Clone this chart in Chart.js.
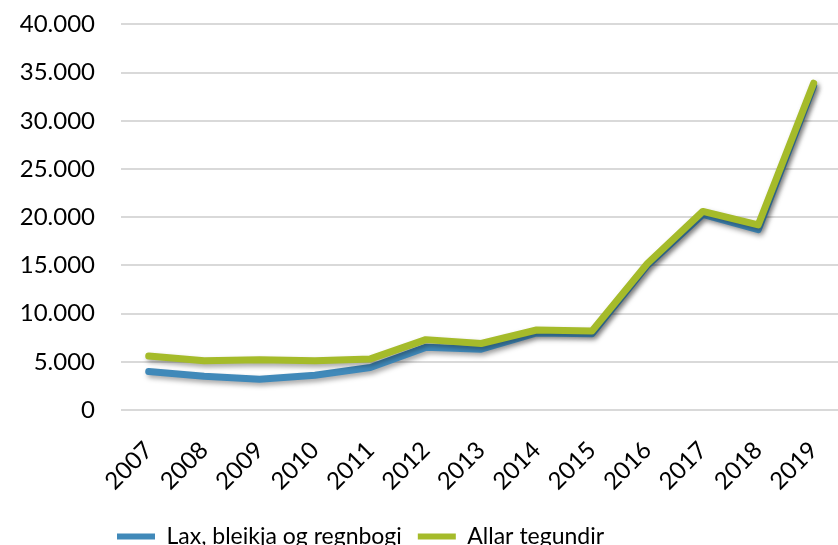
<!DOCTYPE html>
<html lang="fo">
<head>
    <meta charset="UTF-8">
    <title>Lax, bleikja og regnbogi</title>
    <script src="https://cdn.jsdelivr.net/npm/chart.js"></script>
    <style>
        html, body {
            margin: 0;
            padding: 0;
            background: #ffffff;
            overflow: hidden;
        }
        #wrap {
            position: absolute;
            left: 0;
            top: -16px;
            width: 860px;
            height: 574px;
        }
    </style>
</head>
<body>
    <div id="wrap">
        <canvas id="fishChart" width="860" height="574"></canvas>
    </div>
    <script>
        const years = ['2007', '2008', '2009', '2010', '2011', '2012', '2013',
                       '2014', '2015', '2016', '2017', '2018', '2019'];
        const laxBleikja = [4000, 3500, 3200, 3600, 4400, 6500, 6300, 8000, 7900, 15000, 20300, 18700, 33600];
        const allarTegundir = [5600, 5100, 5200, 5100, 5300, 7300, 6900, 8300, 8200, 15200, 20600, 19200, 33900];
        const yTicks = [0, 5000, 10000, 15000, 20000, 25000, 30000, 35000, 40000];

        const blue = '#4089b9';
        const green = '#a5bb2a';
        const fontFamily = 'Lato, "DejaVu Sans", sans-serif';

        // soft drop shadow under each line
        const lineShadow = {
            id: 'lineShadow',
            beforeDatasetDraw(chart) {
                const ctx = chart.ctx;
                ctx.save();
                ctx.shadowColor = 'rgba(0, 0, 0, 0.35)';
                ctx.shadowBlur = 5;
                ctx.shadowOffsetX = 2;
                ctx.shadowOffsetY = 3;
            },
            afterDatasetDraw(chart) {
                chart.ctx.restore();
            }
        };

        // push the legend a bit to the right
        const legendShift = {
            id: 'legendShift',
            afterLayout(chart) {
                chart.legend.left = 101;
            }
        };

        const ctx = document.getElementById('fishChart').getContext('2d');
        new Chart(ctx, {
            type: 'line',
            data: {
                labels: years,
                datasets: [
                    {
                        label: 'Lax, bleikja og regnbogi',
                        data: laxBleikja,
                        borderColor: blue,
                        backgroundColor: blue,
                        borderWidth: 7,
                        pointRadius: 0,
                        borderCapStyle: 'round',
                        borderJoinStyle: 'round',
                        tension: 0,
                        order: 2
                    },
                    {
                        label: 'Allar tegundir',
                        data: allarTegundir,
                        borderColor: green,
                        backgroundColor: green,
                        borderWidth: 7,
                        pointRadius: 0,
                        borderCapStyle: 'round',
                        borderJoinStyle: 'round',
                        tension: 0,
                        order: 1
                    }
                ]
            },
            options: {
                responsive: false,
                animation: false,
                layout: {
                    padding: { top: 0, left: 0, right: 0, bottom: 0 }
                },
                scales: {
                    x: {
                        offset: true,
                        grid: { display: false, drawTicks: false },
                        border: { display: false },
                        ticks: {
                            color: '#000000',
                            font: { family: fontFamily, size: 24 },
                            maxRotation: 45,
                            minRotation: 45,
                            padding: 26,
                            autoSkip: false
                        },
                        afterFit(scale) {
                            scale.height = 99;
                        }
                    },
                    y: {
                        min: 0,
                        max: 40000,
                        afterBuildTicks(scale) {
                            scale.ticks = yTicks.map(v => ({ value: v }));
                        },
                        grid: {
                            color: '#d9d9d9',
                            lineWidth: 2,
                            drawTicks: false
                        },
                        border: { display: false },
                        ticks: {
                            color: '#000000',
                            font: { family: fontFamily, size: 24 },
                            padding: 26,
                            callback: v => v === 0 ? '0' : (v / 1000) + '.000'
                        },
                        afterFit(scale) {
                            scale.width = 121;
                        }
                    }
                },
                plugins: {
                    legend: {
                        position: 'bottom',
                        align: 'start',
                        labels: {
                            color: '#000000',
                            font: { family: fontFamily, size: 23 },
                            boxWidth: 38,
                            boxHeight: 6,
                            padding: 16,
                            useBorderRadius: true,
                            borderRadius: 3,
                            generateLabels(chart) {
                                return chart.data.datasets.map((ds, i) => ({
                                    text: ds.label,
                                    fillStyle: ds.borderColor,
                                    strokeStyle: ds.borderColor,
                                    lineWidth: 0,
                                    fontColor: '#000000',
                                    hidden: false,
                                    datasetIndex: i
                                }));
                            }
                        }
                    },
                    tooltip: { enabled: false }
                }
            },
            plugins: [lineShadow, legendShift]
        });
    </script>
</body>
</html>
